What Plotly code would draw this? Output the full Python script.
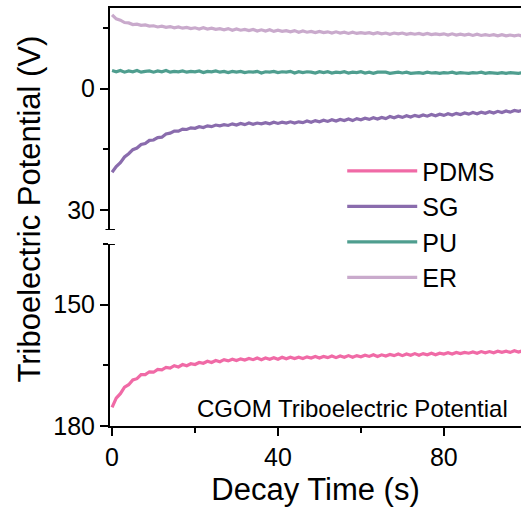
import plotly.graph_objects as go

time_s = [0,1,2,3,4,5,6,7,8,9,10,11,12,13,14,15,16,17,18,19,20,21,22,23,24,25,26,27,28,29,
          30,31,32,33,34,35,36,37,38,39,40,41,42,43,44,45,46,47,48,49,50,51,52,53,54,55,56,57,58,59,
          60,61,62,63,64,65,66,67,68,69,70,71,72,73,74,75,76,77,78,79,80,81,82,83,84,85,86,87,88,89,
          90,91,92,93,94,95,96,97,98,99,100]

pdms = [175.4,173.1,172.0,170.4,169.8,168.6,168.3,167.3,167.3,166.6,166.7,166.0,166.1,165.5,165.7,165.1,165.4,164.8,165.1,164.6,
        164.8,164.3,164.5,164.0,164.3,163.8,164.1,163.6,163.9,163.5,163.8,163.4,163.7,163.3,163.6,163.2,163.6,163.2,163.5,163.1,
        163.5,163.0,163.4,163.0,163.3,163.0,163.3,162.9,163.2,162.8,163.2,162.8,163.1,162.7,163.1,162.7,163.0,162.6,163.0,162.6,
        162.9,162.5,162.8,162.4,162.8,162.4,162.7,162.3,162.6,162.2,162.6,162.2,162.5,162.1,162.5,162.1,162.4,162.0,162.4,162.0,
        162.2,161.9,162.2,161.8,162.1,161.8,162.0,161.7,162.0,161.6,161.9,161.6,161.9,161.5,161.8,161.5,161.8,161.4,161.7,161.4,161.6]

sg = [20.7,19.3,18.3,16.9,16.1,15.1,14.7,13.8,13.6,12.8,12.7,12.1,12.0,11.2,11.0,10.5,10.5,10.0,10.1,9.7,
      9.8,9.4,9.6,9.2,9.4,9.0,9.2,8.9,9.1,8.7,9.0,8.6,8.9,8.5,8.8,8.5,8.7,8.4,8.7,8.3,
      8.6,8.3,8.5,8.2,8.5,8.2,8.4,8.0,8.3,7.9,8.2,7.8,8.1,7.7,8.0,7.6,7.9,7.5,7.9,7.4,
      7.7,7.3,7.6,7.2,7.5,7.1,7.4,6.9,7.2,6.8,7.1,6.7,7.0,6.6,6.9,6.5,6.8,6.4,6.7,6.3,
      6.6,6.2,6.5,6.1,6.4,6.0,6.3,5.9,6.2,5.8,6.1,5.7,6.0,5.6,5.9,5.5,5.8,5.4,5.6,5.3,5.5]

pu = [-4.5,-4.2,-4.5,-4.1,-4.4,-4.2,-4.5,-4.1,-4.3,-4.4,-4.1,-4.4,-4.2,-4.5,-4.1,-4.3,-4.2,-4.4,-4.1,-4.3,
      -4.2,-4.4,-4.0,-4.3,-4.2,-4.4,-4.1,-4.3,-4.0,-4.3,-4.1,-4.3,-4.0,-4.2,-4.1,-4.3,-3.9,-4.2,-4.1,-4.3,
      -4.0,-4.2,-4.1,-4.3,-3.9,-4.2,-4.0,-4.2,-4.1,-3.9,-4.2,-4.0,-4.2,-3.9,-4.1,-4.0,-4.2,-3.9,-4.1,-4.0,
      -4.2,-3.9,-4.1,-3.8,-4.1,-4.0,-4.1,-3.8,-4.0,-4.1,-3.9,-4.1,-3.8,-4.0,-4.0,-3.8,-4.1,-3.9,-4.0,-3.8,
      -4.0,-3.9,-4.1,-3.8,-4.0,-3.9,-3.8,-4.0,-3.9,-4.1,-3.8,-4.0,-3.9,-3.8,-4.0,-3.8,-4.0,-3.9,-3.8,-4.0,-3.9]

er = [-18.3,-17.3,-17.0,-16.4,-16.3,-15.9,-16.0,-15.7,-15.8,-15.5,-15.6,-15.3,-15.5,-15.2,-15.4,-15.1,-15.3,-15.0,-15.2,-14.9,
      -15.1,-14.8,-15.1,-14.8,-15.0,-14.7,-14.9,-14.6,-14.9,-14.5,-14.8,-14.5,-14.7,-14.4,-14.7,-14.3,-14.6,-14.3,-14.6,-14.2,
      -14.5,-14.2,-14.4,-14.1,-14.4,-14.0,-14.3,-14.0,-14.2,-13.9,-14.2,-13.9,-14.1,-13.8,-14.1,-13.8,-14.0,-13.7,-14.0,-13.7,
      -13.9,-13.7,-13.9,-13.6,-13.9,-13.6,-13.8,-13.5,-13.8,-13.6,-13.8,-13.5,-13.7,-13.5,-13.7,-13.4,-13.7,-13.4,-13.6,-13.4,
      -13.6,-13.3,-13.6,-13.3,-13.5,-13.3,-13.5,-13.2,-13.5,-13.2,-13.4,-13.2,-13.4,-13.1,-13.4,-13.1,-13.3,-13.1,-13.3,-13.0,-13.2]

series_names = ["PDMS", "SG", "PU", "ER"]
series_colors = ["#F06AA6", "#8A6CAD", "#4F9E8F", "#C9AACC"]

FONT = "Liberation Sans, Arial, sans-serif"

fig = go.Figure()
fig.add_trace(go.Scatter(x=time_s, y=pdms, name=series_names[0], mode="lines",
                         line=dict(color=series_colors[0], width=3.2), xaxis="x", yaxis="y"))
fig.add_trace(go.Scatter(x=time_s, y=sg, name=series_names[1], mode="lines",
                         line=dict(color=series_colors[1], width=3.2), xaxis="x2", yaxis="y2"))
fig.add_trace(go.Scatter(x=time_s, y=pu, name=series_names[2], mode="lines",
                         line=dict(color=series_colors[2], width=3.2), xaxis="x2", yaxis="y2"))
fig.add_trace(go.Scatter(x=time_s, y=er, name=series_names[3], mode="lines",
                         line=dict(color=series_colors[3], width=3.2), xaxis="x2", yaxis="y2"))

axis_common = dict(showline=True, linecolor="black", linewidth=2, showgrid=False, zeroline=False,
                   ticks="outside", tickcolor="black", tickwidth=2, ticklen=8,
                   tickfont=dict(family=FONT, size=25, color="black"))

xr = [-0.5, 98.6]
top_dom = [0.4689, 1.0]
bot_dom = [0.0, 0.4354]

fig.update_layout(
    width=521, height=515, autosize=False,
    margin=dict(l=110, r=0, t=8, b=89),
    paper_bgcolor="white", plot_bgcolor="white",
    font=dict(family=FONT, color="black"),
    xaxis=dict(**axis_common, domain=[0, 1], anchor="y", range=xr, tick0=0, dtick=40,
               minor=dict(dtick=20, ticks="outside", ticklen=5, tickwidth=2, tickcolor="black"),
               title=dict(text="Decay Time (s)", font=dict(family=FONT, size=31, color="black"), standoff=8)),
    xaxis2=dict(domain=[0, 1], anchor="y2", range=xr, side="top", showline=True, linecolor="black",
                linewidth=2, showticklabels=False, ticks="", showgrid=False, zeroline=False),
    yaxis=dict(**axis_common, domain=bot_dom, anchor="x", range=[180, 135], tick0=0, dtick=30,
               minor=dict(dtick=15, ticks="outside", ticklen=5, tickwidth=2, tickcolor="black")),
    yaxis2=dict(**axis_common, domain=top_dom, anchor="x2", range=[35, -20], tick0=0, dtick=30,
                minor=dict(dtick=15, ticks="outside", ticklen=5, tickwidth=2, tickcolor="black")),
    showlegend=True,
    legend=dict(x=0.565, y=0.665, xanchor="left", yanchor="top", bgcolor="rgba(0,0,0,0)",
                font=dict(family=FONT, size=25, color="black"), itemwidth=70, tracegroupgap=0),
)

# axis break caps
for yref, yv in (("y2", 35), ("y", 135)):
    fig.add_shape(type="line", xref="x domain", yref=yref, x0=-0.011, x1=0.012, y0=yv, y1=yv,
                  line=dict(color="black", width=2))

fig.add_annotation(text="Triboelectric Potential (V)", xref="paper", yref="paper",
                   x=-0.195, y=0.52, xanchor="center", yanchor="middle", textangle=-90,
                   showarrow=False, font=dict(family=FONT, size=31, color="black"))
fig.add_annotation(text="CGOM Triboelectric Potential", xref="paper", yref="paper",
                   x=0.973, y=0.043, xanchor="right", yanchor="middle",
                   showarrow=False, font=dict(family=FONT, size=24, color="black"))

fig.write_html("out.html", config={"responsive": False, "displayModeBar": False},
               post_script="document.body.style.margin='0';document.body.style.overflow='hidden';")
